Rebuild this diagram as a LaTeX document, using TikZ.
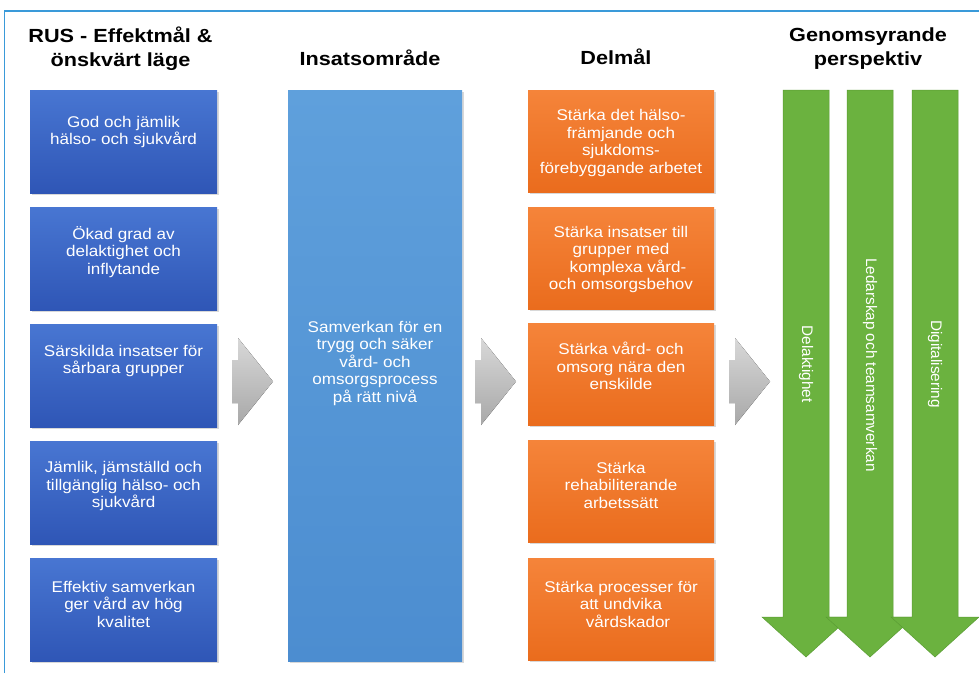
\documentclass[tikz,border=0pt]{standalone}
\usepackage{fontspec}
\setmainfont{Liberation Sans}
\newfontfamily\bodyfont{Liberation Sans}[FakeStretch=1.1]
\newfontfamily\headfont{Liberation Sans}[FakeStretch=1.14]
\usetikzlibrary{shadows}
\definecolor{frameblue}{HTML}{3A9AD9}
\definecolor{blueT}{HTML}{4876D2}
\definecolor{blueB}{HTML}{2F56B6}
\definecolor{midT}{HTML}{5FA0DC}
\definecolor{midB}{HTML}{4C8DD0}
\definecolor{orT}{HTML}{F5843A}
\definecolor{orB}{HTML}{EA6C1D}
\definecolor{grT}{HTML}{D8D8D8}
\definecolor{grB}{HTML}{A8A8A8}
\definecolor{greenF}{HTML}{6BB23F}
\definecolor{greenD}{HTML}{5A9C33}
\begin{document}
\begin{tikzpicture}[x=1pt,y=-1pt,
  boxshadow/.style={drop shadow={opacity=0.3, shadow xshift=1.5pt, shadow yshift=-2pt}},
  bluebox/.style={rectangle, inner sep=0pt, minimum width=187pt, minimum height=103pt,
    top color=blueT, bottom color=blueB, boxshadow},
  midbox/.style={rectangle, inner sep=0pt, minimum width=174pt, minimum height=571pt,
    top color=midT, bottom color=midB, boxshadow},
  orbox/.style={rectangle, inner sep=0pt, minimum width=186pt, minimum height=102pt,
    top color=orT, bottom color=orB, boxshadow},
  boxtext/.style={text=white, align=center, inner sep=0pt,
    font=\bodyfont\fontsize{15.5}{17.5}\selectfont},
  headtext/.style={align=center, inner sep=0pt, text=black,
    font=\headfont\bfseries\fontsize{19}{24}\selectfont},
  graytip/.style={top color=grT, bottom color=grB},
  greenarrow/.style={fill=greenF, draw=greenD, line width=0.5pt},
  vtext/.style={rotate=-90, text=white, inner sep=0pt,
    font=\fontsize{15.3}{17}\selectfont}
]
\useasboundingbox (0,0) rectangle (979,673);
\fill[white] (0,0) rectangle (979,673);
% frame
\draw[frameblue, line width=1.3pt] (4.5,673) -- (4.5,11) -- (979,11);

% headers
\node[headtext] (h1) at (120.5,49) {RUS - Effektmål \&\\önskvärt läge};
\node[headtext] (h2) at (370,58) {Insatsområde};
\node[headtext] (h3) at (616,57) {Delmål};
\node[headtext] (h4) at (868,49) {Genomsyrande\\perspektiv};

% left column
\node[bluebox] (r1) at (123.5,141.5) {};
\node[bluebox] (r2) at (123.5,258.5) {};
\node[bluebox] (r3) at (123.5,375.5) {};
\node[bluebox] (r4) at (123.5,492.5) {};
\node[bluebox] (r5) at (123.5,609.5) {};
\node[boxtext] (r1t) at (123.5,132) {God och jämlik\\hälso- och sjukvård};
\node[boxtext] (r2t) at (123.5,252) {Ökad grad av\\delaktighet och\\inflytande};
\node[boxtext] (r3t) at (123.5,361) {Särskilda insatser för\\sårbara grupper};
\node[boxtext] (r4t) at (123.5,486) {Jämlik, jämställd och\\tillgänglig hälso- och\\sjukvård};
\node[boxtext] (r5t) at (123.5,604) {Effektiv samverkan\\ger vård av hög\\kvalitet};

% middle column
\node[midbox] (m) at (375,375.5) {};
\node[boxtext] (mt) at (375,363) {Samverkan för en\\trygg och säker\\vård- och\\omsorgsprocess\\på rätt nivå};

% orange column
\node[orbox] (o1) at (621,141) {};
\node[orbox] (o2) at (621,258) {};
\node[orbox] (o3) at (621,374) {};
\node[orbox] (o4) at (621,491) {};
\node[orbox] (o5) at (621,609) {};
\node[boxtext] (o1t) at (621,143) {Stärka det hälso-\\främjande och\\sjukdoms-\\förebyggande arbetet};
\node[boxtext] (o2t) at (621,259.5) {Stärka insatser till\\grupper med\\\hspace*{14pt}komplexa vård-\\och omsorgsbehov};
\node[boxtext] (o3t) at (621,366) {Stärka vård- och\\omsorg nära den\\enskilde};
\node[boxtext] (o4t) at (621,485) {Stärka\\rehabiliterande\\arbetssätt};
\node[boxtext] (o5t) at (621,604) {Stärka processer för\\att undvika\\\hspace*{14pt}vårdskador};

% gray block arrows
\foreach \x in {232,475,729} {
  \fill[graytip] (\x,360) -- (\x+6,360) -- (\x+6,338) -- (\x+41,381.5)
    -- (\x+6,425) -- (\x+6,403) -- (\x,403) -- cycle;
}

% green arrows
\foreach \a in {783,847,912} {
  \draw[greenarrow] (\a,90) -- (\a+46,90) -- (\a+46,617) -- (\a+67,617)
    -- (\a+23,657) -- (\a-21,617) -- (\a,617) -- cycle;
}
\node[vtext] (g1) at (806,364) {Delaktighet};
\node[vtext] (g2) at (870,365) {Ledarskap och teamsamverkan};
\node[vtext] (g3) at (935,364) {Digitalisering};
\end{tikzpicture}
\end{document}
